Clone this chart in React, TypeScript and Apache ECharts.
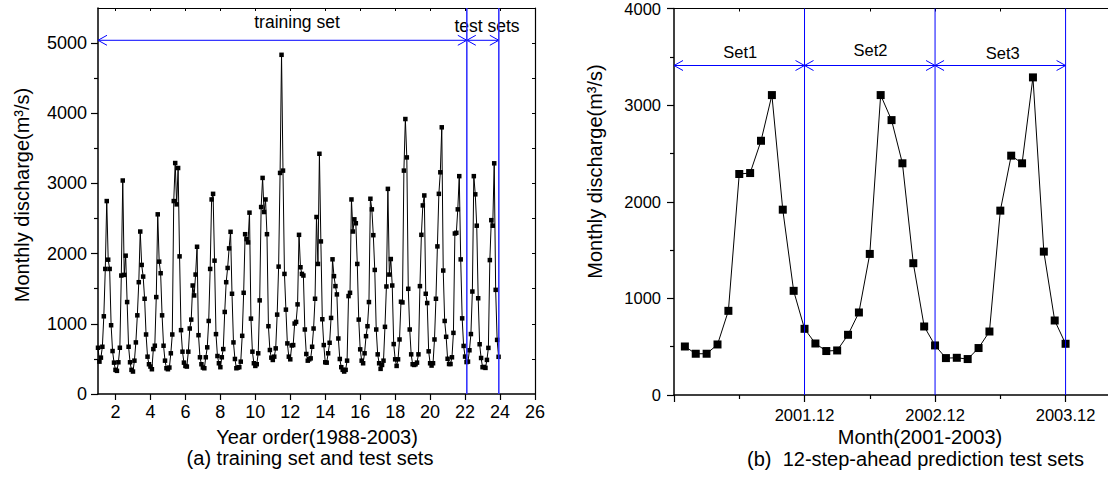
import React, { useEffect, useRef } from "react";
import * as echarts from "echarts";

// ---- data ----
// (a) monthly discharge, training part (240 months)
const trainingDischarge = [
  659, 461, 518, 673, 1107, 1782, 2749, 1914, 1782, 980, 612, 447, 344, 330, 452,
  659, 1688, 3042, 1697, 1971, 1310, 673, 452, 344, 320, 475, 735, 1121, 1593, 2315,
  1839, 1673, 1357, 848, 532, 424, 391, 353, 640, 688, 1381, 2560, 1886, 1721, 1121,
  688, 475, 367, 353, 377, 580, 848, 2749, 3291, 2702, 3220, 1961, 910, 603, 447,
  400, 391, 603, 933, 1060,
  1546, 1404, 1702, 2098, 838, 523, 424, 377, 367, 523,
  665, 1041, 1782, 2772, 2852, 1900, 853, 541, 438, 382,
  523, 640, 1169, 1593, 1796, 2075, 2311, 1428, 735, 499,
  367, 377, 382, 461, 829, 1442, 2277, 2207, 2160, 2584,
  1074, 603, 438, 400, 424, 580, 1334, 2664, 3079, 2593,
  2772, 2277, 966, 627, 518, 485, 532, 650, 1131, 1815,
  3150, 4833, 3183, 1711, 1202, 721, 532, 494, 692, 697,
  1004, 1027, 1277, 2268,
  1806, 1711, 1688, 919, 570, 475, 494, 508, 673, 933,
  1357, 2522, 1853, 3423, 2174, 1065, 697, 452, 447, 580,
  730, 1084, 1919, 1679, 1537, 1419, 791, 499, 382, 344,
  320, 344, 475, 1395, 1442, 2772, 2315, 2489, 2433, 1853,
  1060, 636, 475, 438, 580, 824, 966, 1310, 2782, 2631,
  2263, 1768, 919, 565, 438, 358, 414, 475, 957, 1532,
  2923, 1702, 1923, 1546, 711, 494,
  400, 494, 777, 1315, 1305, 3183, 3918, 3371, 1499, 919,
  565, 424, 414, 424, 447, 565, 1537, 2268, 2687, 2829,
  1428, 1296, 608, 438, 405, 438, 777, 1357, 2103, 2852,
  3159, 3800, 1759, 1041, 815,
];
// (b) test sets, 12 months each (2001.01 - 2003.12)
const testSet1 = [502, 427, 427, 523, 871, 2287, 2297, 2631, 3104, 1918, 1078, 685];
const testSet2 = [533, 455, 461, 623, 854, 1460, 3104, 2845, 2398, 1364, 709, 513];
const testSet3 = [382, 385, 372, 486, 657, 1908, 2477, 2398, 3287, 1484, 771, 530];

const yearTicks = [2, 4, 6, 8, 10, 12, 14, 16, 18, 20, 22, 24, 26];
const dischargeTicksA = [0, 1000, 2000, 3000, 4000, 5000];
const dischargeMinorA = [500, 1500, 2500, 3500, 4500];
const dischargeRightA = [500, 1000, 1500, 2000, 2500, 3000, 3500, 4000, 4500, 5000];
const dischargeTicksB = [0, 1000, 2000, 3000, 4000];
const dischargeMinorB = [500, 1500, 2500, 3500];
const monthTicks = [0, 12, 24, 36];
const monthTickLabels = ["", "2001.12", "2002.12", "2003.12"];
const monthMinor = [6, 18, 30];

// annotations
const splitYears = [22.1, 23.93];
const splitMonths = [12, 24, 36];
const arrowsA = [
  [1, 22.1, 5040],
  [22.1, 23.93, 5040],
];
const arrowsB = [
  [0, 12, 3410],
  [12, 24, 3410],
  [24, 36, 3410],
];

const FONT = '"Liberation Sans", Arial, Helvetica, sans-serif';
const BLUE = "#0000ff";

function arrowRender(params: any, api: any) {
  const x0 = api.value(0);
  const x1 = api.value(1);
  const yv = api.value(2);
  const p0 = api.coord([x0, yv]);
  const p1 = api.coord([x1, yv]);
  const hw = 9;
  const hh = 5;
  const st = { stroke: BLUE, fill: "none", lineWidth: 1 };
  return {
    type: "group",
    children: [
      { type: "line", shape: { x1: p0[0], y1: p0[1], x2: p1[0], y2: p1[1] }, style: st },
      {
        type: "polyline",
        shape: { points: [[p0[0] + hw, p0[1] - hh], [p0[0], p0[1]], [p0[0] + hw, p0[1] + hh]] },
        style: st,
      },
      {
        type: "polyline",
        shape: { points: [[p1[0] - hw, p1[1] - hh], [p1[0], p1[1]], [p1[0] - hw, p1[1] + hh]] },
        style: st,
      },
    ],
  };
}

function vlineRender(yMin: number, yMax: number, color: string, width: number) {
  return (params: any, api: any) => {
    const xv = api.value(0);
    const a = api.coord([xv, yMin]);
    const b = api.coord([xv, yMax]);
    return {
      type: "line",
      shape: { x1: a[0], y1: a[1], x2: b[0], y2: b[1] },
      style: { stroke: color, lineWidth: width, fill: "none" },
    };
  };
}

function txt(text: string, x: number, y: number, size: number, rotation = 0) {
  return {
    type: "text",
    x,
    y,
    rotation,
    silent: true,
    style: {
      text,
      fill: "#000",
      font: `${size}px ${FONT}`,
      fontSize: size,
      fontFamily: FONT,
      align: "center",
      verticalAlign: "middle",
      textAlign: "center",
      textVerticalAlign: "middle",
    },
  };
}

const black = { color: "#000" };
const plain = (v: number) => String(v);

export default function App() {
  const ref = useRef<HTMLDivElement>(null);
  useEffect(() => {
    if (!ref.current) return;
    const chart = echarts.init(ref.current, undefined, { renderer: "svg", width: 1108, height: 478 });
    const allDischarge = [...trainingDischarge, ...testSet1, ...testSet2, ...testSet3];
    const testAll = [...testSet1, ...testSet2, ...testSet3];
    const option: any = {
      animation: false,
      backgroundColor: "#fff",
      textStyle: { fontFamily: FONT },
      grid: [
        { left: 98, top: 8, width: 437, height: 386 },
        { left: 674, top: 8, width: 436, height: 387 },
      ],
      xAxis: [
        {
          gridIndex: 0, type: "value", position: "bottom", min: 1, max: 26,
          axisLine: { show: true, onZero: false, lineStyle: { ...black, width: 1.5 } },
          axisTick: { show: true, inside: false, length: 6, customValues: yearTicks, lineStyle: { ...black, width: 1.2 } },
          axisLabel: { show: true, customValues: yearTicks, fontSize: 18, margin: 9, color: "#000", fontFamily: FONT, formatter: plain },
          splitLine: { show: false },
        },
        {
          gridIndex: 0, type: "value", position: "top", min: 1, max: 26,
          axisLine: { show: true, onZero: false, lineStyle: { ...black, width: 1 } },
          axisTick: { show: true, inside: true, length: 3, customValues: yearTicks, lineStyle: { ...black, width: 1 } },
          axisLabel: { show: false },
          splitLine: { show: false },
        },
        {
          gridIndex: 1, type: "value", position: "bottom", min: 0, max: 39.9,
          axisLine: { show: true, onZero: false, lineStyle: { ...black, width: 1.5 } },
          axisTick: { show: true, inside: false, length: 7, customValues: monthTicks, lineStyle: { ...black, width: 1.2 } },
          axisLabel: {
            show: true, customValues: monthTicks, fontSize: 16.5, margin: 11, color: "#000", fontFamily: FONT,
            formatter: (v: number) => {
              const i = monthTicks.indexOf(v);
              return i >= 0 ? monthTickLabels[i] : "";
            },
          },
          splitLine: { show: false },
        },
        {
          gridIndex: 1, type: "value", position: "bottom", min: 0, max: 39.9,
          axisLine: { show: false, onZero: false },
          axisTick: { show: true, inside: false, length: 4, customValues: monthMinor, lineStyle: { ...black, width: 1.2 } },
          axisLabel: { show: false },
          splitLine: { show: false },
        },
        {
          gridIndex: 1, type: "value", position: "top", min: 0, max: 39.9,
          axisLine: { show: true, onZero: false, lineStyle: { ...black, width: 1 } },
          axisTick: { show: true, inside: true, length: 3, customValues: [6, 12, 18, 24, 30, 36], lineStyle: { ...black, width: 1 } },
          axisLabel: { show: false },
          splitLine: { show: false },
        },
      ],
      yAxis: [
        {
          gridIndex: 0, type: "value", position: "left", min: 0, max: 5500,
          axisLine: { show: true, onZero: false, lineStyle: { ...black, width: 1.5 } },
          axisTick: { show: true, inside: false, length: 7, customValues: dischargeTicksA, lineStyle: { ...black, width: 1.2 } },
          axisLabel: { show: true, customValues: dischargeTicksA, fontSize: 18, margin: 11, color: "#000", fontFamily: FONT, formatter: plain },
          splitLine: { show: false },
        },
        {
          gridIndex: 0, type: "value", position: "left", min: 0, max: 5500,
          axisLine: { show: false, onZero: false },
          axisTick: { show: true, inside: false, length: 4, customValues: dischargeMinorA, lineStyle: { ...black, width: 1.2 } },
          axisLabel: { show: false },
          splitLine: { show: false },
        },
        {
          gridIndex: 0, type: "value", position: "right", min: 0, max: 5500,
          axisLine: { show: true, onZero: false, lineStyle: { ...black, width: 1.2 } },
          axisTick: { show: true, inside: true, length: 3, customValues: dischargeRightA, lineStyle: { ...black, width: 1 } },
          axisLabel: { show: false },
          splitLine: { show: false },
        },
        {
          gridIndex: 1, type: "value", position: "left", min: 0, max: 4000,
          axisLine: { show: true, onZero: false, lineStyle: { ...black, width: 1.5 } },
          axisTick: { show: true, inside: false, length: 7, customValues: dischargeTicksB, lineStyle: { ...black, width: 1.2 } },
          axisLabel: { show: true, customValues: dischargeTicksB, fontSize: 16.5, margin: 13, color: "#000", fontFamily: FONT, formatter: plain },
          splitLine: { show: false },
        },
        {
          gridIndex: 1, type: "value", position: "left", min: 0, max: 4000,
          axisLine: { show: false, onZero: false },
          axisTick: { show: true, inside: false, length: 4, customValues: dischargeMinorB, lineStyle: { ...black, width: 1.2 } },
          axisLabel: { show: false },
          splitLine: { show: false },
        },
      ],
      series: [
        {
          type: "custom", xAxisIndex: 0, yAxisIndex: 0,
          data: splitYears.map((v) => [v, 0]),
          renderItem: vlineRender(0, 5500, "#2a2aff", 1.5), silent: true, clip: false, z: 5,
        },
        {
          type: "custom", xAxisIndex: 2, yAxisIndex: 3,
          data: splitMonths.map((v) => [v, 0]),
          renderItem: vlineRender(0, 4000, BLUE, 1), silent: true, clip: false, z: 5,
        },
        {
          type: "line", xAxisIndex: 0, yAxisIndex: 0,
          data: allDischarge.map((v, i) => [1 + i / 12, v]),
          symbol: "rect", symbolSize: 4.5, showSymbol: true,
          lineStyle: { color: "#000", width: 1 },
          itemStyle: { color: "#000" },
          z: 3,
        },
        {
          type: "line", xAxisIndex: 2, yAxisIndex: 3,
          data: testAll.map((v, i) => [i + 1, v]),
          symbol: "rect", symbolSize: 8, showSymbol: true,
          lineStyle: { color: "#000", width: 1 },
          itemStyle: { color: "#000" },
          z: 3,
        },
        {
          type: "custom", xAxisIndex: 0, yAxisIndex: 0, data: arrowsA, renderItem: arrowRender, silent: true, clip: false, z: 4,
        },
        {
          type: "custom", xAxisIndex: 2, yAxisIndex: 3, data: arrowsB, renderItem: arrowRender, silent: true, clip: false, z: 4,
        },
      ],
      graphic: [
        txt("Monthly discharge(m³/s)", 22, 195, 20, Math.PI / 2),
        txt("Monthly discharge(m³/s)", 594.5, 171.5, 20, Math.PI / 2),
        txt("Year order(1988-2003)", 317, 436.5, 20),
        txt("(a) training set and test sets", 310, 458, 20),
        txt("Month(2001-2003)", 920, 436.5, 20),
        txt("(b)  12-step-ahead prediction test sets", 915.5, 459, 20),
        txt("training set", 297, 22, 17.5),
        txt("test sets", 487, 25.5, 17.5),
        txt("Set1", 740.3, 51.7, 16.5),
        txt("Set2", 870.5, 49.7, 16.5),
        txt("Set3", 1002.8, 52.7, 16.5),
      ],
    };
    chart.setOption(option);
    return () => chart.dispose();
  }, []);
  return (
    <div
      ref={ref}
      style={{ position: "fixed", left: 0, top: 0, width: 1108, height: 478, background: "#fff" }}
    />
  );
}
